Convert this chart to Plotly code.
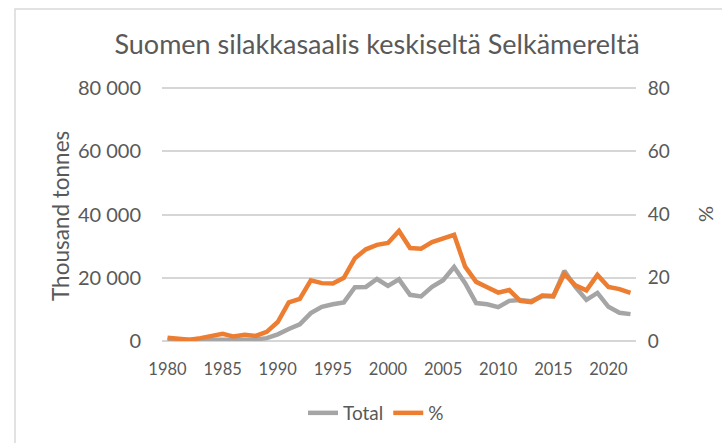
import plotly.graph_objects as go

years = list(range(1980, 2023))
total = [300, 300, 200, 300, 400, 500, 400, 500, 500, 900,
         2100, 3800, 5300, 8800, 10800, 11600, 12200, 17000, 17100, 19600,
         17400, 19500, 14600, 14100, 17100, 19200, 23400, 18300, 12000, 11600,
         10700, 12700, 13000, 12600, 14200, 14100, 22200, 17100, 13000, 15200,
         10800, 8900, 8500]
pct = [1.0, 0.7, 0.4, 0.9, 1.6, 2.3, 1.4, 2.0, 1.6, 2.9,
       6.0, 12.2, 13.3, 19.2, 18.3, 18.2, 20.0, 26.2, 29.0, 30.4,
       31.0, 34.8, 29.4, 29.2, 31.3, 32.5, 33.6, 23.5, 18.7, 17.0,
       15.3, 16.1, 12.7, 12.3, 14.4, 14.2, 21.2, 17.6, 16.0, 20.9,
       17.1, 16.4, 15.2]
x_ticks = list(range(1980, 2021, 5))
y_ticks = [0, 20000, 40000, 60000, 80000]
y2_ticks = [0, 20, 40, 60, 80]

FONT = "Lato"
TXT = "#595959"
GRID = "#D6D6D6"

L, R, T, B = 162, 86, 86, 102
PW = 722 - L - R
PH = 443 - T - B
EXT = PH / (PH - 2.0)  # small headroom so the 80 000 gridline is drawn

fig = go.Figure()
fig.add_trace(go.Scatter(x=years, y=total, name="Total", mode="lines",
                         line=dict(color="#A5A5A5", width=4.5), yaxis="y"))
fig.add_trace(go.Scatter(x=years, y=pct, name="%", mode="lines",
                         line=dict(color="#ED7D31", width=4.5), yaxis="y2"))

fig.update_layout(
    width=722, height=443,
    margin=dict(l=L, r=R, t=T, b=B, pad=0, autoexpand=False),
    paper_bgcolor="white", plot_bgcolor="white",
    separators=". ",
    font=dict(family=FONT, color=TXT),
    title=dict(text="Suomen silakkasaalis keskiseltä Selkämereltä",
               x=377 / 722, xref="container", xanchor="center",
               y=1 - 45 / 443, yref="container", yanchor="middle",
               font=dict(family=FONT, size=27, color=TXT)),
    xaxis=dict(range=[1979.5, 2022.5], tickvals=x_ticks, showgrid=False,
               zeroline=False, showline=False, ticks="outside", ticklen=13,
               tickcolor="rgba(0,0,0,0)", tickfont=dict(size=16.5, color=TXT)),
    yaxis=dict(range=[0, 80000 * EXT], tickvals=y_ticks, tickformat=",d",
               showgrid=True, gridcolor=GRID, gridwidth=1.5,
               zeroline=True, zerolinecolor=GRID, zerolinewidth=1.5,
               ticks="outside", ticklen=16, tickcolor="rgba(0,0,0,0)",
               tickfont=dict(size=20, color=TXT)),
    yaxis2=dict(range=[0, 80 * EXT], tickvals=y2_ticks, overlaying="y", side="right",
                showgrid=False, zeroline=False, ticks="outside", ticklen=7,
                tickcolor="rgba(0,0,0,0)", tickfont=dict(size=19, color=TXT)),
    legend=dict(orientation="h", xanchor="center", x=(376 - L) / PW,
                yanchor="middle", y=(443 - B - 413) / PH,
                font=dict(size=19, color=TXT), itemwidth=30),
    showlegend=True,
)

fig.add_annotation(text="Thousand tonnes", textangle=-90, xref="paper", yref="paper",
                   x=(60 - L) / PW, y=(443 - B - 216) / PH, showarrow=False,
                   xanchor="center", yanchor="middle",
                   font=dict(family=FONT, size=22.5, color=TXT))
fig.add_annotation(text="%", textangle=-90, xref="paper", yref="paper",
                   x=(705 - L) / PW, y=(443 - B - 214) / PH, showarrow=False,
                   xanchor="center", yanchor="middle",
                   font=dict(family=FONT, size=20, color=TXT))

fig.add_shape(type="rect", xref="paper", yref="paper",
              x0=(15 - L) / PW, x1=(900 - L) / PW,
              y0=(443 - B - 600) / PH, y1=(443 - B - 9) / PH,
              line=dict(color="#D9D9D9", width=1.5), fillcolor="rgba(0,0,0,0)",
              layer="below")

fig.write_html("out.html",
               config={"displayModeBar": False},
               post_script="document.body.style.margin='0';"
                           "document.body.style.overflow='hidden';")
